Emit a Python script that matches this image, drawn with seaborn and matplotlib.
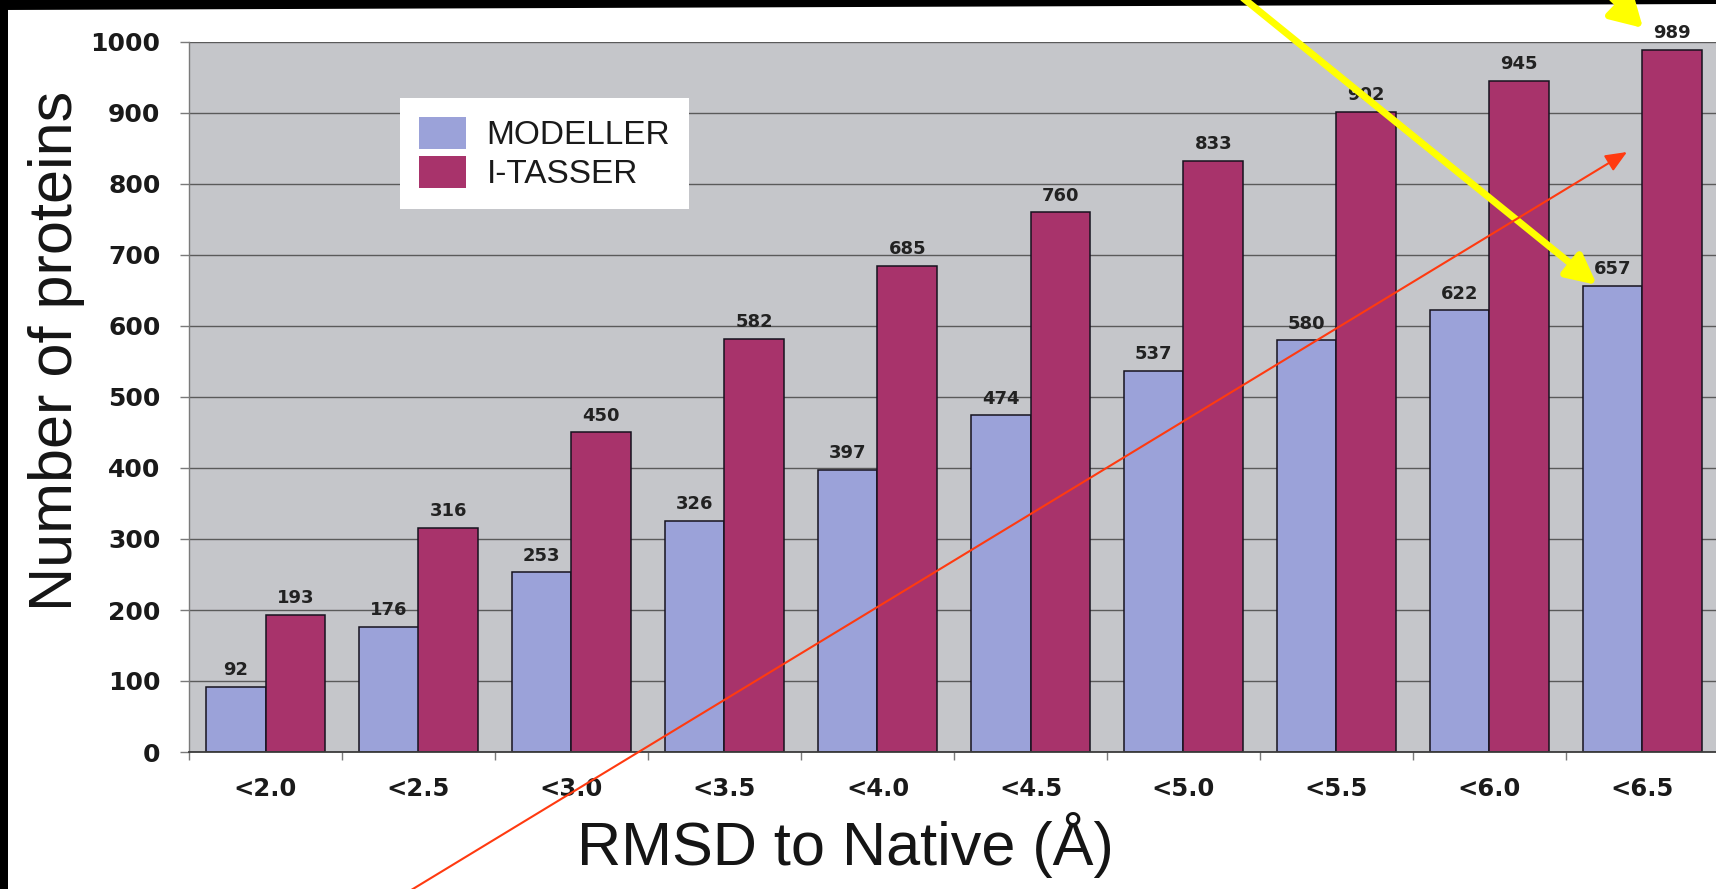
import numpy as np
import pandas as pd
import matplotlib
matplotlib.use("Agg")
import matplotlib.pyplot as plt
import seaborn as sns
from matplotlib.patches import Patch, FancyArrowPatch, Polygon, Rectangle, ArrowStyle

# ---- data -------------------------------------------------------------
rmsd_labels = ["<2.0", "<2.5", "<3.0", "<3.5", "<4.0", "<4.5", "<5.0", "<5.5", "<6.0", "<6.5"]
modeller = [92, 176, 253, 326, 397, 474, 537, 580, 622, 657]
itasser = [193, 316, 450, 582, 685, 760, 833, 902, 945, 989]
methods = ["MODELLER", "I-TASSER"]
method_colors = ["#9ba2d9", "#a8336b"]
y_ticks = list(range(0, 1001, 100))

df = pd.DataFrame({
    "rmsd": rmsd_labels * 2,
    "method": [methods[0]] * len(modeller) + [methods[1]] * len(itasser),
    "count": modeller + itasser,
})

# ---- style ------------------------------------------------------------
sns.set_theme(style="white")
plt.rcParams["font.family"] = ["Liberation Sans", "DejaVu Sans"]

W, H = 1716, 889
fig = plt.figure(figsize=(W / 100, H / 100), dpi=100)
fig.patch.set_facecolor("white")


def fx(x):
    return x / W


def fy(y):
    return 1 - y / H


ax = fig.add_axes([fx(189), fy(752), 1530 / W, 710 / H])
ax.set_facecolor("#c5c6ca")

sns.barplot(
    data=df, x="rmsd", y="count", hue="method",
    order=rmsd_labels, hue_order=methods, palette=method_colors,
    width=0.78, saturation=1, edgecolor="#16121e", linewidth=1.1,
    ax=ax, legend=False,
)

# value labels above bars
for cont in ax.containers:
    ax.bar_label(cont, fmt="%d", padding=5.5, fontsize=13, fontweight="bold",
                 family="DejaVu Sans", color="#222222")

# axes limits, grid, ticks
ax.set_ylim(0, 1000)
ax.set_xlim(-0.5, len(rmsd_labels) - 0.5)
ax.set_axisbelow(True)
ax.yaxis.grid(True, color="#5a5a5a", linewidth=1.0)
ax.xaxis.grid(False)

ax.set_yticks(y_ticks)
ax.set_yticklabels([str(v) for v in y_ticks])
ax.set_xticks(np.arange(-0.5, len(rmsd_labels), 1.0), minor=True)
ax.tick_params(axis="y", left=True, length=6.5, width=1, color="#7a7a7a",
               pad=14, labelsize=18, labelcolor="#1a1a1a")
ax.tick_params(axis="x", which="major", bottom=True, length=0, pad=18,
               labelsize=17.5, labelcolor="#1a1a1a")
ax.tick_params(axis="x", which="minor", bottom=True, length=6, width=1,
               color="#7a7a7a")
for lbl in ax.get_yticklabels() + ax.get_xticklabels():
    lbl.set_fontweight("bold")
    lbl.set_family("DejaVu Sans")

ax.set_xlabel("")
ax.set_ylabel("")
for side in ("top", "right"):
    ax.spines[side].set_visible(False)
ax.spines["left"].set_color("#7a7a7a")
ax.spines["left"].set_linewidth(1.0)
ax.spines["bottom"].set_color("#3c3c3c")
ax.spines["bottom"].set_linewidth(1.3)

# legend
handles = [Patch(facecolor=c, edgecolor="none", label=m)
           for m, c in zip(methods, method_colors)]
ax.legend(handles=handles, loc="upper left",
          bbox_to_anchor=(fx(400), fy(98)), bbox_transform=fig.transFigure,
          borderaxespad=0, frameon=True, fancybox=False, facecolor="white",
          edgecolor="none", framealpha=1, fontsize=24, handlelength=1.42,
          handleheight=1.1, handletextpad=0.62, borderpad=0.56,
          labelspacing=0.15, labelcolor="#1a1a1a")

# axis titles
fig.text(fx(72), fy(351), "Number of proteins", rotation=90,
         rotation_mode="anchor", ha="center", va="baseline",
         fontsize=44, color="#151515")
fig.text(fx(845), fy(865), "RMSD to Native (Å)", ha="center", va="baseline",
         fontsize=44, color="#151515")

# dark frame strips along the top and left edges
fig.add_artist(Polygon([[0, 1], [1, 1], [1, fy(4)], [0, fy(10)]], closed=True,
                       transform=fig.transFigure, facecolor="black",
                       edgecolor="none", zorder=5))
fig.add_artist(Rectangle((0, 0), fx(8), 1, transform=fig.transFigure,
                         facecolor="black", edgecolor="none", zorder=5))

# highlight arrows
def arrow(p0, p1, color, lw, hl, hw):
    fig.add_artist(FancyArrowPatch(
        (fx(p0[0]), fy(p0[1])), (fx(p1[0]), fy(p1[1])),
        transform=fig.transFigure,
        arrowstyle=ArrowStyle("-|>", head_length=hl, head_width=hw),
        mutation_scale=1, color=color, linewidth=lw,
        shrinkA=0, shrinkB=0, zorder=6))


arrow((1243, -2), (1597, 285), "#ffff00", 5.0, 18, 9)
arrow((1612, -2), (1643, 28), "#ffff00", 5.0, 19, 11)
arrow((403, 895), (1627, 152), "#ff3a10", 1.5, 13, 5.5)

fig.savefig("out.png", dpi=100, facecolor=fig.get_facecolor())
